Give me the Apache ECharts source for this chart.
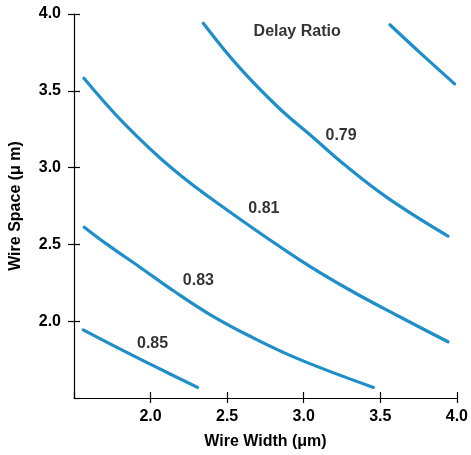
<!DOCTYPE html>
<html>
<head>
<meta charset="utf-8">
<script src="https://cdn.jsdelivr.net/npm/echarts@6/dist/echarts.min.js"></script>
<style>html,body{margin:0;padding:0;background:#fff}#c{width:471px;height:455px}</style>
</head>
<body>
<div id="c"></div>
<script>
// Contour curves: wire width (x) and wire space (y)
const c085x = [1.560, 1.825, 2.041, 2.307];
const c085y = [1.944, 1.807, 1.699, 1.569];
const c083x = [1.567, 1.716, 1.933, 2.149, 2.388, 2.643, 2.968, 3.455];
const c083y = [2.612, 2.500, 2.350, 2.198, 2.043, 1.905, 1.753, 1.569];
const c081x = [1.565, 1.825, 2.149, 2.495, 2.968, 3.292, 3.617, 3.942];
const c081y = [3.582, 3.290, 2.987, 2.727, 2.403, 2.208, 2.034, 1.866];
const c079x = [2.344, 2.578, 2.838, 3.054, 3.271, 3.552, 3.942];
const c079y = [3.940, 3.654, 3.388, 3.203, 3.015, 2.800, 2.554];
const c077x = [3.563, 3.768, 3.985];
const c077y = [3.930, 3.740, 3.545];

const labelText = ['Delay Ratio', '0.79', '0.81', '0.83', '0.85'];
const labelX = [2.957, 3.244, 2.740, 2.312, 2.013];
const labelY = [3.888, 3.210, 2.734, 2.266, 1.851];

const tickLabels = ['2.0', '2.5', '3.0', '3.5', '4.0'];

const FONT = '"Liberation Sans", Arial, sans-serif';
const LINE = '#1f8fca';

function pts(xs, ys) { return xs.map((x, i) => [x, ys[i]]); }
function fmt(v) { const s = v.toFixed(1); return tickLabels.includes(s) ? s : ''; }

const curves = [[c085x, c085y], [c083x, c083y], [c081x, c081y], [c079x, c079y], [c077x, c077y]];

const axisCommon = {
  type: 'value', min: 1.5, max: 4.0, interval: 0.5,
  splitLine: { show: false }
};
const txt = { fontFamily: FONT, fontWeight: 'bold', fontSize: 16, color: '#000' };

const option = {
  animation: false,
  backgroundColor: '#fff',
  grid: { left: 74, right: 12, top: 14, bottom: 56 },
  xAxis: [
    Object.assign({}, axisCommon, {
      name: 'Wire Width (μm)', nameLocation: 'middle', nameGap: 36,
      nameTextStyle: txt,
      axisLine: { lineStyle: { color: '#000', width: 1.2 } },
      axisTick: { show: true, length: 5, lineStyle: { color: '#000', width: 1.2 } },
      axisLabel: Object.assign({ showMinLabel: false, margin: 11, formatter: fmt }, txt)
    }),
    Object.assign({}, axisCommon, {
      position: 'bottom', offset: 0,
      axisLine: { show: false },
      axisTick: { show: true, inside: true, length: 6, lineStyle: { color: '#000', width: 1.2 } },
      axisLabel: { show: false }
    })
  ],
  yAxis: [
    Object.assign({}, axisCommon, {
      name: 'Wire Space (μ m)', nameLocation: 'middle', nameGap: 50,
      nameTextStyle: txt,
      axisLine: { lineStyle: { color: '#000', width: 1.2 } },
      axisTick: { show: true, length: 6, lineStyle: { color: '#000', width: 1.2 } },
      axisLabel: Object.assign({ showMinLabel: false, margin: 13, formatter: fmt }, txt)
    }),
    Object.assign({}, axisCommon, {
      position: 'left', offset: 0,
      axisLine: { show: false },
      axisTick: { show: true, inside: true, length: 6, lineStyle: { color: '#000', width: 1.2 } },
      axisLabel: { show: false }
    })
  ],
  series: curves.map(c => ({
    type: 'line', smooth: 0.4, showSymbol: false, symbol: 'none',
    data: pts(c[0], c[1]),
    lineStyle: { color: LINE, width: 3.2, cap: 'round' }
  })).concat([{
    type: 'scatter', symbolSize: 0,
    data: labelText.map((t, i) => ({ value: [labelX[i], labelY[i]], name: t })),
    label: Object.assign({ show: true, position: 'inside', formatter: p => p.name }, txt)
  }])
};

echarts.init(document.getElementById('c')).setOption(option);
</script>
</body>
</html>
